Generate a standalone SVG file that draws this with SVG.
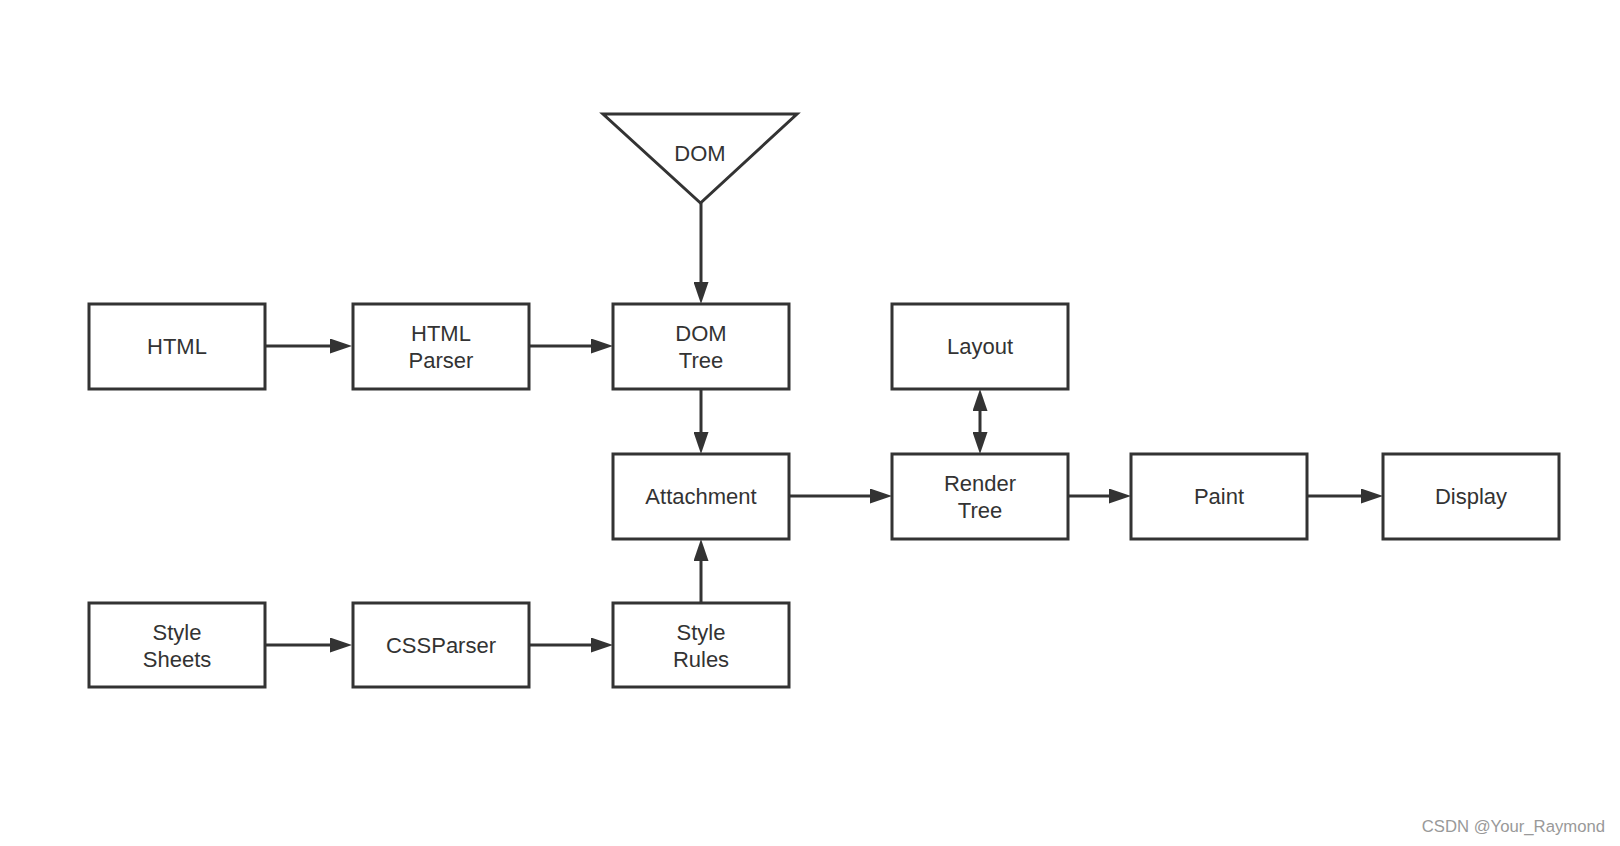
<svg xmlns="http://www.w3.org/2000/svg" width="1620" height="846" viewBox="0 0 1620 846">
<style>
.box{fill:#ffffff;stroke:#333333;stroke-width:3}
.lbl{font-family:"Liberation Sans",Arial,sans-serif;font-size:22px;fill:#333333;text-anchor:middle}
.conn{fill:none;stroke:#333333;stroke-width:3}
.wm{font-family:"Liberation Sans",Arial,sans-serif;font-size:16.7px;fill:#999999;text-anchor:end}
</style>
<defs>
<marker id="arr" viewBox="0 0 22 15" refX="10" refY="7.5" markerWidth="22" markerHeight="15" markerUnits="userSpaceOnUse" orient="auto-start-reverse">
<path d="M0,0 L22,7.5 L0,15 z" fill="#333333"/>
</marker>
</defs>
<rect width="1620" height="846" fill="#ffffff"/>

<g id="dom">
<polygon class="box" points="603,114 797,114 700.5,203"/>
<text class="lbl" x="700" y="161">DOM</text>
</g>
<g id="html">
<rect class="box" x="89" y="304" width="176" height="85"/>
<text class="lbl" x="177" y="354">HTML</text>
</g>
<g id="html-parser">
<rect class="box" x="353" y="304" width="176" height="85"/>
<text class="lbl" x="441" y="341">HTML</text>
<text class="lbl" x="441" y="368">Parser</text>
</g>
<g id="dom-tree">
<rect class="box" x="613" y="304" width="176" height="85"/>
<text class="lbl" x="701" y="341">DOM</text>
<text class="lbl" x="701" y="368">Tree</text>
</g>
<g id="layout">
<rect class="box" x="892" y="304" width="176" height="85"/>
<text class="lbl" x="980" y="354">Layout</text>
</g>
<g id="attachment">
<rect class="box" x="613" y="454" width="176" height="85"/>
<text class="lbl" x="701" y="504">Attachment</text>
</g>
<g id="render-tree">
<rect class="box" x="892" y="454" width="176" height="85"/>
<text class="lbl" x="980" y="491">Render</text>
<text class="lbl" x="980" y="518">Tree</text>
</g>
<g id="paint">
<rect class="box" x="1131" y="454" width="176" height="85"/>
<text class="lbl" x="1219" y="504">Paint</text>
</g>
<g id="display">
<rect class="box" x="1383" y="454" width="176" height="85"/>
<text class="lbl" x="1471" y="504">Display</text>
</g>
<g id="style-sheets">
<rect class="box" x="89" y="603" width="176" height="84"/>
<text class="lbl" x="177" y="640">Style</text>
<text class="lbl" x="177" y="667">Sheets</text>
</g>
<g id="css-parser">
<rect class="box" x="353" y="603" width="176" height="84"/>
<text class="lbl" x="441" y="653">CSSParser</text>
</g>
<g id="style-rules">
<rect class="box" x="613" y="603" width="176" height="84"/>
<text class="lbl" x="701" y="640">Style</text>
<text class="lbl" x="701" y="667">Rules</text>
</g>

<g id="connectors">
<path class="conn" marker-end="url(#arr)" d="M265,346 L340,346"/>
<path class="conn" marker-end="url(#arr)" d="M529,346 L601,346"/>
<path class="conn" marker-end="url(#arr)" d="M701,203 L701,292"/>
<path class="conn" marker-end="url(#arr)" d="M701,389 L701,442"/>
<path class="conn" marker-end="url(#arr)" d="M701,603 L701,551"/>
<path class="conn" marker-end="url(#arr)" d="M265,645 L340,645"/>
<path class="conn" marker-end="url(#arr)" d="M529,645 L601,645"/>
<path class="conn" marker-end="url(#arr)" d="M789,496 L880,496"/>
<path class="conn" marker-start="url(#arr)" marker-end="url(#arr)" d="M980,401 L980,442"/>
<path class="conn" marker-end="url(#arr)" d="M1068,496 L1119,496"/>
<path class="conn" marker-end="url(#arr)" d="M1307,496 L1371,496"/>
</g>

<text class="wm" x="1605" y="832">CSDN @Your_Raymond</text>
</svg>
